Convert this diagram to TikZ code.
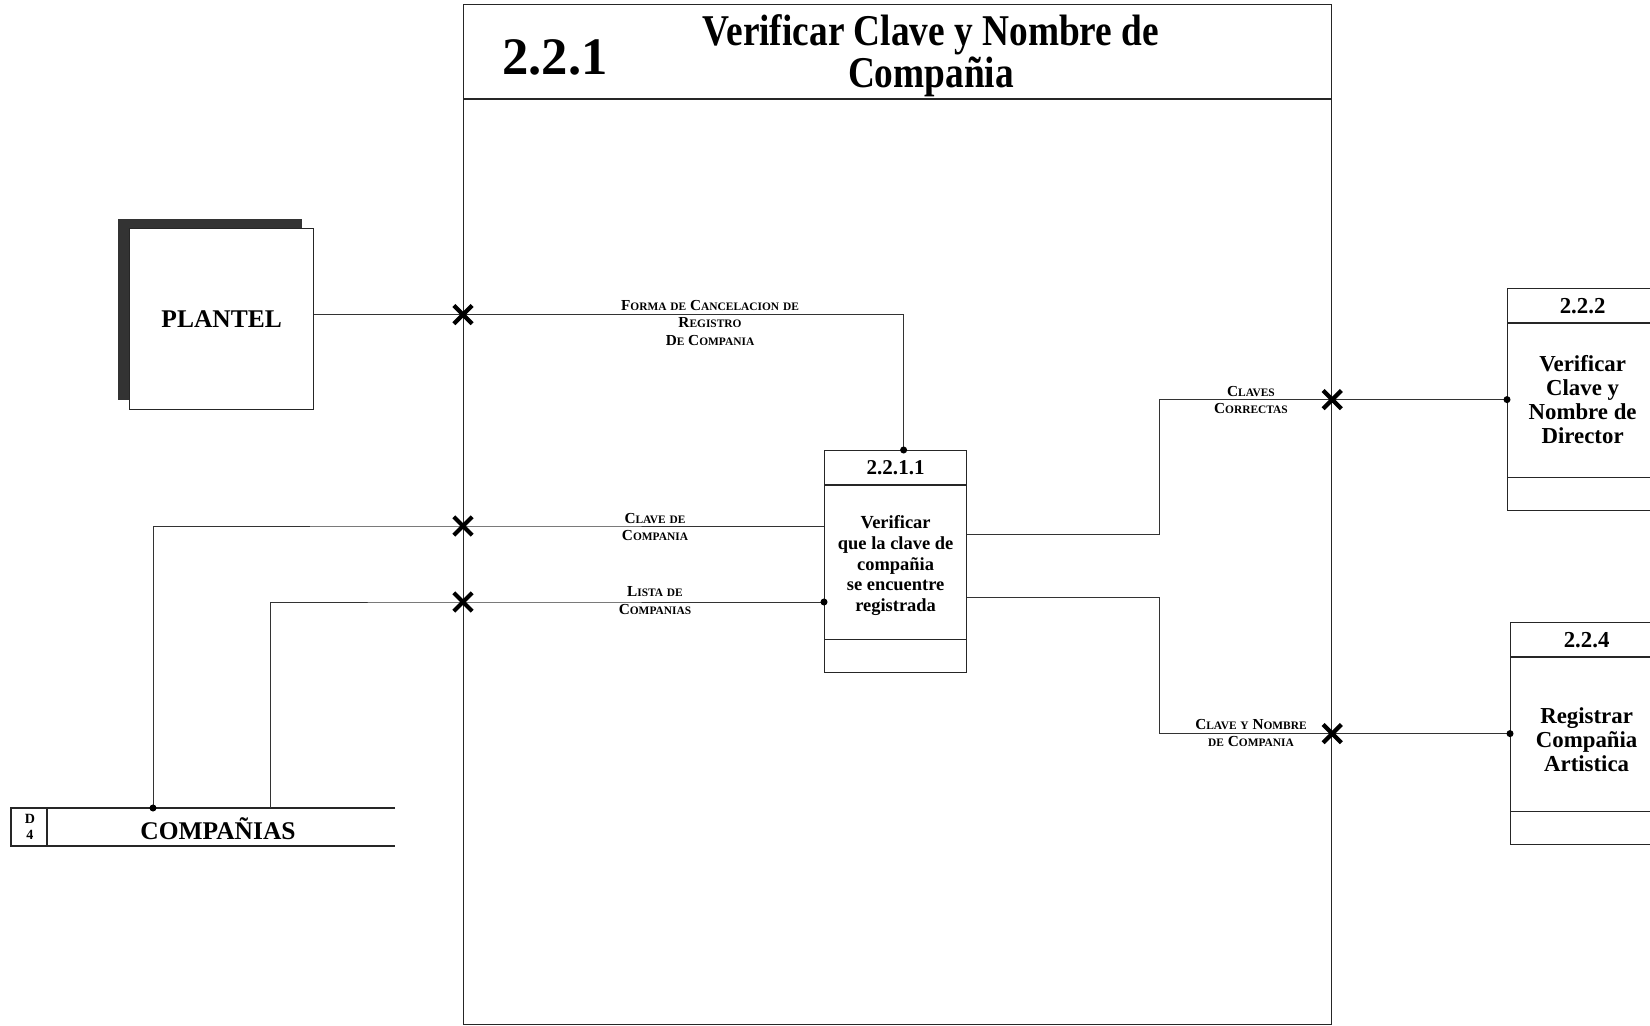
\documentclass[tikz,border=0pt]{standalone}
\usepackage{fontspec}
\setmainfont{Liberation Serif}
\newfontfamily\titlefont[FakeStretch=0.85]{Liberation Serif}
\usetikzlibrary{positioning,calc,shapes.misc}
\newcommand\pxu{0.02cm}
\newcommand\sck[1]{{\fontsize{6.5}{7}\selectfont #1}}
\tikzset{
  every node/.style={font=\bfseries},
  boxline/.style={draw=black!85, line width=0.7pt},
  flow/.style={draw=black!80, line width=0.5pt},
  procbox/.style={boxline, inner sep=0pt, minimum width=142*\pxu, minimum height=222*\pxu},
  dot/.style={circle, fill=black, inner sep=0pt, minimum size=4pt},
  xmark/.style={cross out, draw=black, line width=2.4pt, minimum size=8pt, inner sep=0pt},
  flowlbl/.style={font=\bfseries\fontsize{8.7}{10.2}\selectfont, align=center, inner sep=0pt},
  proctxt/.style={font=\bfseries\fontsize{10.5}{11.9}\selectfont, align=center},
  bigtxt/.style={font=\bfseries\fontsize{13}{13.6}\selectfont, align=center},
  numtxt/.style={font=\bfseries\fontsize{12}{14}\selectfont},
}
\begin{document}
\begin{tikzpicture}[x=0.02cm, y=-0.02cm]
  \useasboundingbox (0,0) rectangle (1650,1026);
  % proceso 2.2.1
  \node[boxline, anchor=north west, inner sep=0pt, minimum width=868*\pxu, minimum height=1020*\pxu] (b221) at (463,4) {};
  \draw[boxline] ($(b221.north west)+(0,95)$) -- ($(b221.north east)+(0,95)$);
  \node[font=\bfseries\fontsize{30}{30}\selectfont] (n221) at (555,57) {2.2.1};
  \node[font=\titlefont\bfseries\fontsize{25}{23.8}\selectfont, align=center] (t221) at (931,56) {Verificar Clave y Nombre de\\Compañia};
  % entidad externa
  \fill[black!80] (118,219) rectangle (302,400);
  \node[boxline, fill=white, anchor=north west, inner sep=0pt, minimum width=184*\pxu, minimum height=181*\pxu, font=\bfseries\fontsize{14.5}{16}\selectfont] (plantel) at (129,228) {PLANTEL};
  % almacen D4
  \draw[boxline] (395,808) -- (11,808) -- (11,846) -- (395,846);
  \draw[boxline] (47,808) -- (47,846);
  \node[font=\bfseries\fontsize{8}{9.5}\selectfont, align=center] (d4id) at (30,827) {D\\4};
  \node[font=\bfseries\fontsize{14.5}{16}\selectfont] (d4) at (218,829) {COMPAÑIAS};
  \coordinate (s1) at (153,808);
  \coordinate (s2) at (270,808);
  % procesos
  \node[procbox, anchor=north west] (p2211) at (824,450) {};
  \draw[boxline] ($(p2211.north west)+(0,35)$) -- ($(p2211.north east)+(0,35)$);
  \draw[boxline] ($(p2211.south west)+(0,-34)$) -- ($(p2211.south east)+(0,-34)$);
  \node[numtxt] (p2211num) at ($(p2211.north)+(0,18)$) {2.2.1.1};
  \node[proctxt] (p2211txt) at ($(p2211.center)+(0,4)$) {Verificar\\que la clave de\\compañia\\se encuentre\\registrada};
  \node[procbox, anchor=north west, minimum width=150*\pxu] (p222) at (1507,288) {};
  \draw[boxline] ($(p222.north west)+(0,35)$) -- ($(p222.north east)+(0,35)$);
  \draw[boxline] ($(p222.south west)+(0,-34)$) -- ($(p222.south east)+(0,-34)$);
  \node[numtxt, font=\bfseries\fontsize{13}{14}\selectfont] (p222num) at ($(p222.north)+(0,18)$) {2.2.2};
  \node[bigtxt] (p222txt) at (p222.center) {Verificar\\Clave y\\Nombre de\\Director};
  \node[procbox, anchor=north west, minimum width=152*\pxu] (p224) at (1510,622) {};
  \draw[boxline] ($(p224.north west)+(0,35)$) -- ($(p224.north east)+(0,35)$);
  \draw[boxline] ($(p224.south west)+(0,-34)$) -- ($(p224.south east)+(0,-34)$);
  \node[numtxt, font=\bfseries\fontsize{13}{14}\selectfont] (p224num) at ($(p224.north)+(0,18)$) {2.2.4};
  \node[bigtxt] (p224txt) at ($(p224.center)+(0,6)$) {Registrar\\Compañia\\Artistica};
  % puntos de cruce con la frontera
  \coordinate (pl1) at ($(plantel.east)+(0,-4.5)$);
  \coordinate (k1) at (b221.west |- pl1);
  \coordinate (k2) at (463,526);
  \coordinate (k3) at (463,602);
  \coordinate (k4) at (b221.east |- p222.west);
  \coordinate (k5) at (b221.east |- p224.west);
  \coordinate (bend) at (1159,0);
  \coordinate (c1) at ($(p2211.north)+(8,0)$);
  \coordinate (o1) at ($(p2211.north east)+(0,84)$);
  \coordinate (o2) at ($(p2211.north east)+(0,147)$);
  % flujos
  \draw[flow] (pl1) -| (c1);
  \draw[flow] (s1) |- (k2) -- (p2211.west |- k2);
  \draw[flow] (s2) |- (k3) -- (p2211.west |- k3);
  \draw[flow] (o1) -| (bend |- p222.west) -- (p222.west);
  \draw[flow] (o2) -| (bend |- p224.west) -- (p224.west);
  \node[dot] (dt1) at (c1) {};
  \node[dot] (dt2) at (s1) {};
  \node[dot] (dt3) at (p2211.west |- k3) {};
  \node[dot] (dt4) at (p222.west) {};
  \node[dot] (dt5) at (p224.west) {};
  \node[xmark] (x1) at (k1) {};
  \node[xmark] (x2) at (k2) {};
  \node[xmark] (x3) at (k3) {};
  \node[xmark] (x4) at (k4) {};
  \node[xmark] (x5) at (k5) {};
  % etiquetas
  \node[flowlbl] (l1) at (710,323) {F\sck{ORMA} \sck{DE} C\sck{ANCELACION} \sck{DE}\\R\sck{EGISTRO}\\D\sck{E} C\sck{OMPANIA}};
  \node[flowlbl] (l2) at (655,527) {C\sck{LAVE} \sck{DE}\\C\sck{OMPANIA}};
  \node[flowlbl] (l3) at (655,601) {L\sck{ISTA} \sck{DE}\\C\sck{OMPANIAS}};
  \node[flowlbl] (l4) at (1251,400) {C\sck{LAVES}\\C\sck{ORRECTAS}};
  \node[flowlbl] (l5) at (1251,733) {C\sck{LAVE} \sck{Y} N\sck{OMBRE}\\\sck{DE} C\sck{OMPANIA}};
\end{tikzpicture}
\end{document}
